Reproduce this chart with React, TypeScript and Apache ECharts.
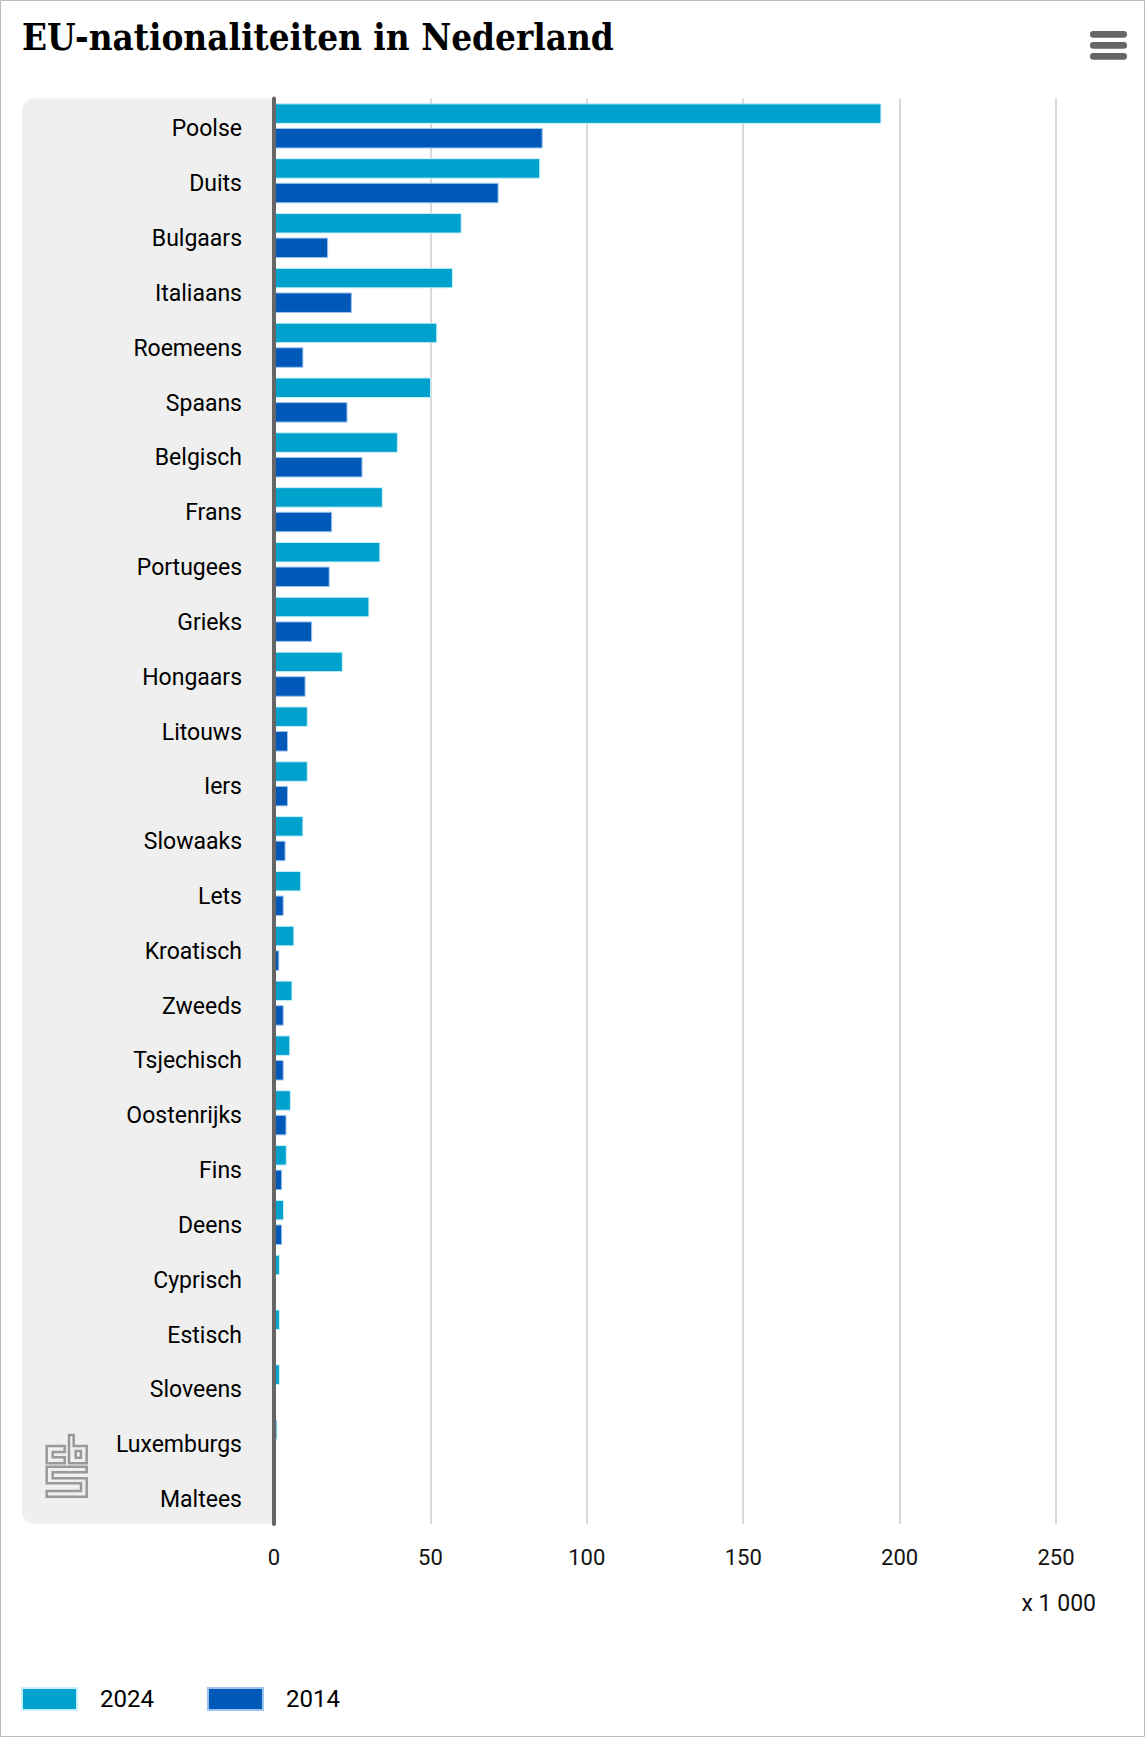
import React, { useEffect, useRef } from "react";
import * as echarts from "echarts";

const categories = [
  "Poolse", "Duits", "Bulgaars", "Italiaans", "Roemeens", "Spaans", "Belgisch", "Frans",
  "Portugees", "Grieks", "Hongaars", "Litouws", "Iers", "Slowaaks", "Lets", "Kroatisch",
  "Zweeds", "Tsjechisch", "Oostenrijks", "Fins", "Deens", "Cyprisch", "Estisch", "Sloveens",
  "Luxemburgs", "Maltees",
];
const values2024 = [
  194.2, 85.1, 60.0, 57.2, 52.2, 50.2, 39.6, 34.8, 34.0, 30.5, 22.0, 10.8, 10.8, 9.4, 8.7, 6.5,
  5.9, 5.2, 5.4, 4.1, 3.2, 1.9, 1.9, 1.9, 1.1, 0.4,
];
const values2014 = [
  85.9, 71.8, 17.3, 24.9, 9.4, 23.5, 28.3, 18.6, 17.8, 12.2, 10.1, 4.5, 4.5, 3.7, 3.1, 1.7,
  3.1, 3.1, 4.0, 2.6, 2.6, 0.4, 0.3, 0.3, 0.6, 0.1,
];
const seriesNames = ["2024", "2014"];
const xTicks = { min: 0, max: 250, interval: 50 };
const unitLabel = "x 1 000";
const titleText = "EU-nationaliteiten in Nederland";

const logoD =
  "M0 11 H18 V17 H6 V22.3 H18 V28.3 H0 Z " +
  "M22.3 0 H27 V11 H40 V28.3 H22.3 Z M29 16 H34.3 V22.7 H29 Z " +
  "M0 31.7 H40 V37.3 H6 V43.3 H40 V61.7 H0 V56 H34.3 V48.3 H0 Z";
echarts.graphic.registerShape("cbslogo", echarts.graphic.extendPath(logoD, {}));

const FONT = "Roboto, 'Noto Sans', sans-serif";

export default function App() {
  const ref = useRef<HTMLDivElement>(null);
  useEffect(() => {
    document.body.style.margin = "0";
    if (!ref.current) return;
    const chart = echarts.init(ref.current, null, { renderer: "svg" });
    const W = 1145;
    const H = 1737;
    const gridLeft = 274;
    const gridTop = 98.5;
    const gridBottomY = 1524;
    chart.setOption({
      animation: false,
      backgroundColor: "#ffffff",
      grid: {
        left: gridLeft,
        right: W - 1056,
        top: gridTop,
        bottom: H - gridBottomY,
        containLabel: false,
      },
      legend: {
        left: 21,
        top: 1687,
        padding: 0,
        itemWidth: 55,
        itemHeight: 22,
        itemGap: 53,
        icon: "rect",
        data: seriesNames,
        textStyle: { fontFamily: FONT, fontSize: 24, color: "#000", padding: [0, 0, 0, 18] },
      },
      xAxis: {
        type: "value",
        min: xTicks.min,
        max: xTicks.max,
        interval: xTicks.interval,
        axisLine: { show: false },
        axisTick: { show: false },
        splitLine: { lineStyle: { color: "#cccccc", width: 1.5 } },
        axisLabel: { fontFamily: FONT, fontSize: 22, color: "#111", margin: 22 },
      },
      yAxis: {
        type: "category",
        inverse: true,
        data: categories,
        z: 10,
        axisLine: { show: true, lineStyle: { color: "#666666", width: 4 } },
        axisTick: { show: false },
        axisLabel: {
          margin: 32,
          formatter: (v: string) => `{a|${v}}`,
          rich: {
            a: {
              fontFamily: FONT,
              fontSize: 23,
              color: "#000",
              padding: [6, 0, 0, 0],
            },
          },
        },
      },
      series: [
        {
          name: seriesNames[0],
          type: "bar",
          data: values2024,
          barWidth: 20.5,
          barGap: "20%",
          itemStyle: { color: "#00a1cd", borderColor: "#c8f0fa", borderWidth: 1 },
        },
        {
          name: seriesNames[1],
          type: "bar",
          data: values2014,
          barWidth: 20.5,
          barGap: "20%",
          itemStyle: { color: "#0058b8", borderColor: "#9cc4ee", borderWidth: 1 },
        },
      ],
      graphic: [
        {
          type: "rect",
          z: -10,
          silent: true,
          shape: { x: 22, y: gridTop, width: gridLeft - 22, height: gridBottomY - gridTop, r: [12, 0, 0, 12] },
          style: { fill: "#efefef" },
        },
        {
          type: "cbslogo",
          z: -5,
          x: 46.7,
          y: 1435,
          silent: true,
          style: { fill: "none", stroke: "#999999", lineWidth: 2.5 },
        },
        {
          type: "text",
          x: 22,
          y: 37,
          style: {
            text: titleText,
            fontFamily: "'DejaVu Serif Condensed', 'DejaVu Serif', serif",
            fontWeight: "bold",
            fontSize: 36.5,
            fill: "#000",
            verticalAlign: "middle",
            align: "left",
          },
        },
        {
          type: "text",
          x: 1096,
          y: 1603,
          style: {
            text: unitLabel,
            fontFamily: FONT,
            fontSize: 23,
            fill: "#111",
            align: "right",
            verticalAlign: "middle",
          },
        },
        {
          type: "group",
          children: [
            { type: "rect", shape: { x: 1090, y: 31, width: 37, height: 6.7, r: 3.3 }, style: { fill: "#666" } },
            { type: "rect", shape: { x: 1090, y: 42, width: 37, height: 6.7, r: 3.3 }, style: { fill: "#666" } },
            { type: "rect", shape: { x: 1090, y: 53, width: 37, height: 6.7, r: 3.3 }, style: { fill: "#666" } },
          ],
        },
        {
          type: "rect",
          silent: true,
          shape: { x: 0.5, y: 0.5, width: W - 1, height: H - 1 },
          style: { fill: "none", stroke: "#bbbbbb", lineWidth: 1 },
        },
      ],
    });
    return () => chart.dispose();
  }, []);
  return <div ref={ref} style={{ width: 1145, height: 1737 }} />;
}
